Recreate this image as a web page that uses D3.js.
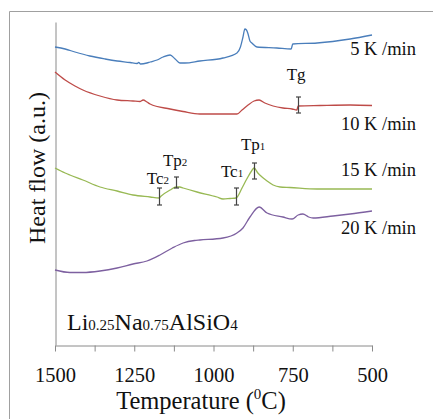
<!DOCTYPE html>
<html><head><meta charset="utf-8">
<script src="https://cdn.jsdelivr.net/npm/d3@7"></script>
<style>body{margin:0;background:#fff}svg{display:block}text{font-family:"Liberation Serif","Times New Roman",serif;fill:#111}</style>
</head><body><svg id="c" width="433" height="419"></svg>
<script>
// Temperature (°C) vs heat flow (arbitrary units)
const xTicks = [1500,1375,1250,1125,1000,875,750,625,500];
const xLabels = [1500,1250,1000,750,500];
const series = ["5 K /min","10 K /min","15 K /min","20 K /min"];
const colors = ["#4a7ebb","#be4b48","#98b954","#7d60a0"];

const blue = [[1500,298],[1468,296],[1437,293],[1390,289],[1342,286],[1304,284],[1263,282.5],[1241,281.5],[1236,282.5],[1230,281],[1210,282],[1200,283],[1178,285],[1159,288],[1137,290],[1121,286],[1106,282],[1090,282],[1043,284],[970,287],[926,292],[915,298],[907,308],[901,316],[896,315],[891,311],[885,304],[879,302],[863,298],[800,297],[755,296],[750,301],[673,302],[569,306],[500,310]];
const red = [[1500,273],[1468,265],[1437,259],[1412,255],[1358,249],[1304,245],[1254,244],[1232,243.5],[1222,245],[1210,243],[1200,241],[1137,236],[1096,233.5],[1043,231],[970,231],[926,231],[910,235],[891,240],[872,244],[856,245],[838,242],[812,239],[781,237],[752,236],[737,235],[733,239],[664,239.5],[569,240],[500,239.5]];
const green = [[1500,177],[1468,172],[1453,170],[1412,165],[1358,158],[1304,154],[1254,150],[1200,148],[1172,147],[1165,149],[1137,155],[1118,158],[1106,158],[1096,157],[1052,153],[989,148],[970,146],[948,146.5],[929,147],[910,157],[895,166],[880,174],[872,177],[860,172],[847,168],[831,164],[812,160],[790,158],[759,157.5],[673,156],[569,156],[500,156]];
const purple = [[1500,75],[1453,72.5],[1412,72.5],[1358,74],[1304,77],[1254,81],[1210,84],[1169,90],[1130,97],[1096,102],[1060,104.5],[1043,105],[970,107],[926,112],[907,117],[885,128],[856,138],[831,132],[781,128],[752,126],[733,130],[718,131],[700,128],[686,127],[623,129],[569,131],[500,134]];
const allSeries = [blue, red, green, purple];

// characteristic temperatures: [label, subscript, T, low, high]
const markers = [["T","g",733,232,248],["Tc","2",1172,140,157],["Tp","2",1118,157,168],["Tc","1",929,140,157],["Tp","1",872,166,182]];

const svg = d3.select("#c");
const x = d3.scaleLinear().domain([1500,500]).range([55,372]);
const y = d3.scaleLinear().domain([0,323]).range([345,22]);
const axisColor = "#8a8a8a";

// outer frame
svg.append("path").attr("d","M9.5,430V11.5H440").attr("fill","none").attr("stroke","#a0a0a0");

// axes
const gx = svg.append("g").attr("transform","translate(0,345.5)")
  .call(d3.axisBottom(x).tickValues(xTicks).tickSize(6).tickSizeOuter(0).tickFormat(d => xLabels.includes(d) ? d : ""));
gx.selectAll("path,line").attr("stroke",axisColor);
gx.selectAll("text").attr("font-size",20.5).attr("dy","1.33em").attr("fill","#111");
const gy = svg.append("g").attr("transform","translate(55.5,0)")
  .call(d3.axisLeft(y).tickValues([]).tickSizeOuter(0));
gy.selectAll("path").attr("stroke",axisColor);

// curves
const line = d3.line().x(d => x(d[0])).y(d => y(d[1])).curve(d3.curveMonotoneX);
allSeries.forEach((s,i) => {
  svg.append("path").datum(s).attr("d",line).attr("fill","none").attr("stroke",colors[i]).attr("stroke-width",1.3);
});

// error-bar markers
markers.forEach(m => {
  const g = svg.append("g").attr("stroke","#444").attr("stroke-width",1.2);
  const xm = Math.round(x(m[2]))+0.5;
  g.append("line").attr("x1",xm).attr("x2",xm).attr("y1",y(m[3])).attr("y2",y(m[4]));
  [m[3],m[4]].forEach(v => g.append("line").attr("x1",xm-2.5).attr("x2",xm+2.5).attr("y1",y(v)).attr("y2",y(v)));
});
// marker labels (offsets from markers)
const labelOff = [[-2,-17],[-1,-4],[-1,-11],[-4,-11],[-1,-13]];
markers.forEach((m,i) => {
  const t = svg.append("text").attr("x",x(m[2])+labelOff[i][0]).attr("y",y(m[4])+labelOff[i][1])
    .attr("text-anchor","middle").attr("font-size",17);
  t.append("tspan").text(m[0]);
  t.append("tspan").attr("font-size",m[1]==="g"?17:11).text(m[1]);
});

// series labels
const legendY = [55,130,176,234];
series.forEach((s,i) => {
  svg.append("text").attr("x",416).attr("y",legendY[i]).attr("text-anchor","end").attr("font-size",18.5).text(s);
});

// composition
const comp = svg.append("text").attr("x",67).attr("y",330).attr("font-size",24);
[["Li",24],["0.25",15],["Na",24],["0.75",15],["AlSiO",24],["4",15]].forEach(p => comp.append("tspan").attr("font-size",p[1]).text(p[0]));

// axis titles
const xt = svg.append("text").attr("x",201).attr("y",409).attr("text-anchor","middle").attr("font-size",24.5);
xt.append("tspan").text("Temperature (");
xt.append("tspan").attr("font-size",15).attr("dy",-10).text("0");
xt.append("tspan").attr("dy",10).text("C)");
svg.append("text").attr("transform","translate(45,168) rotate(-90)").attr("text-anchor","middle").attr("font-size",24).text("Heat flow (a.u.)");
</script></body></html>
